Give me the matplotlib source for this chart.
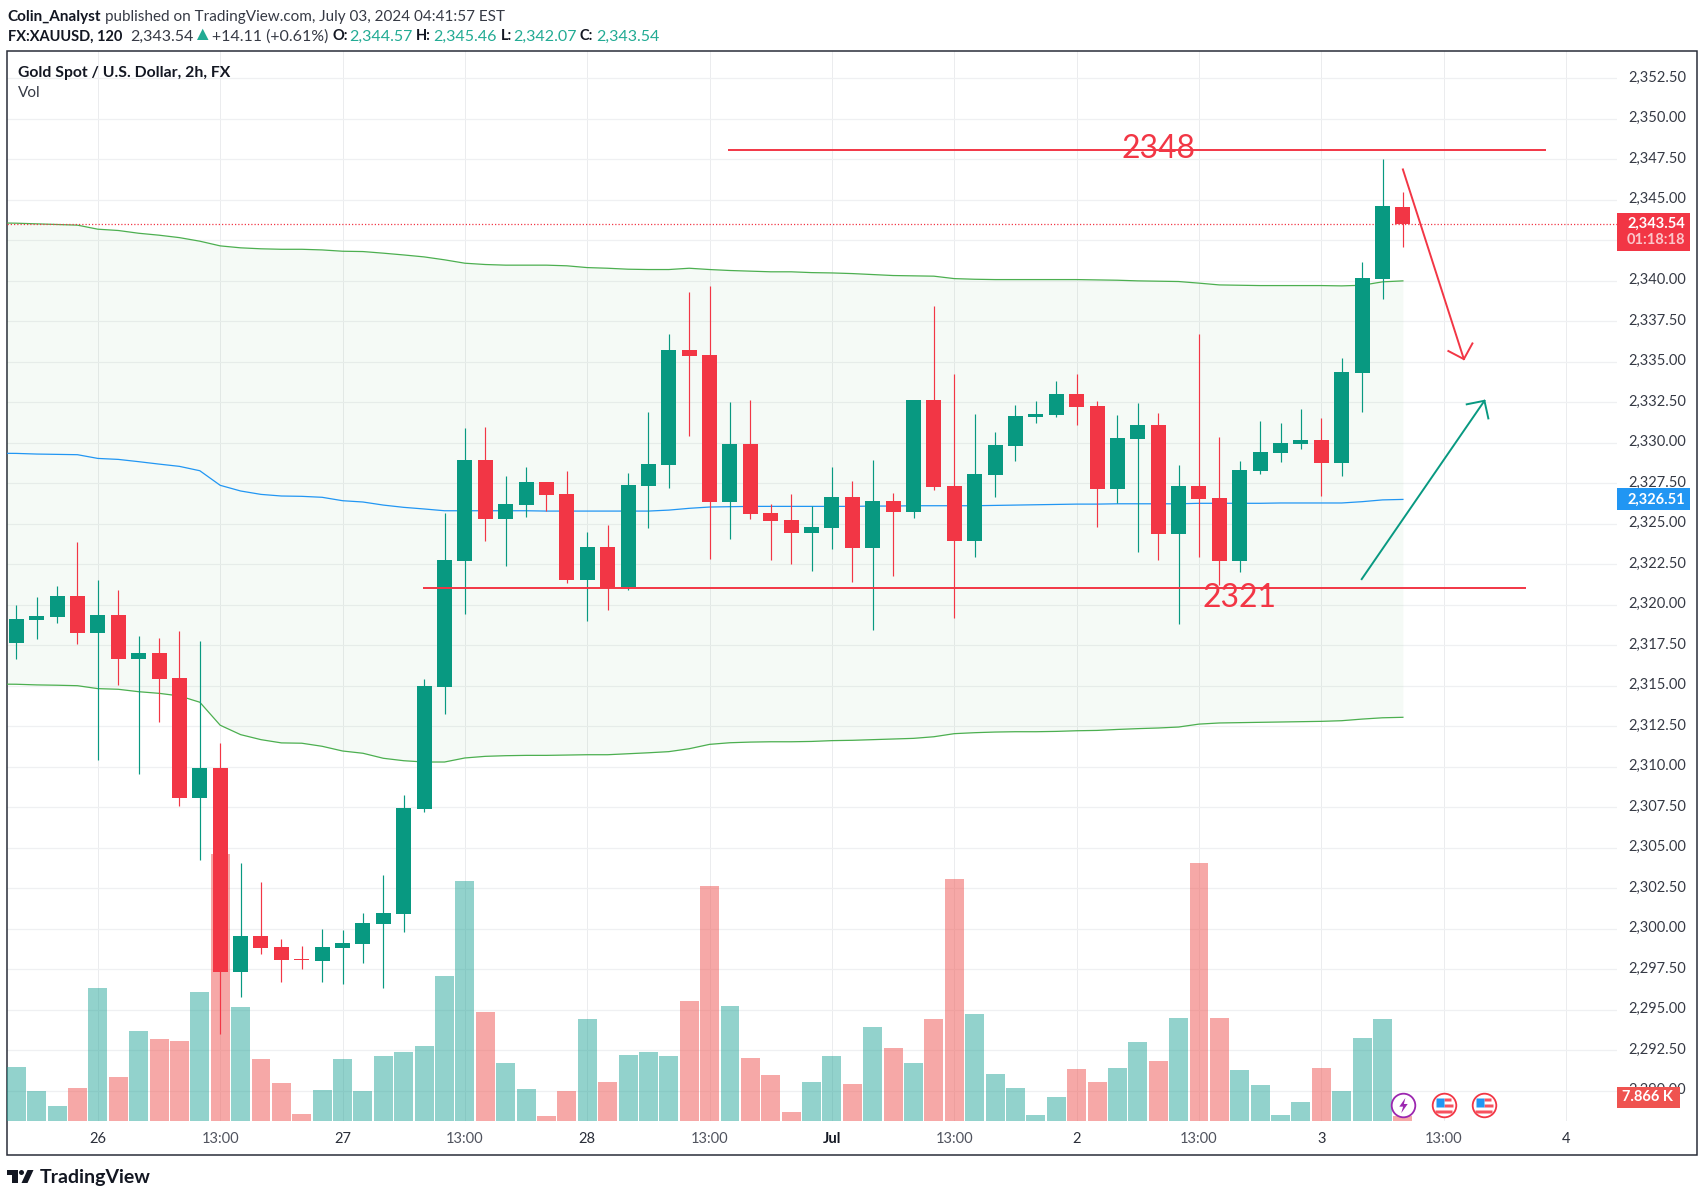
import numpy as np
import matplotlib
matplotlib.use('Agg')
import matplotlib.pyplot as plt
from matplotlib.patches import Rectangle, Polygon, Circle
from matplotlib.path import Path
from matplotlib.transforms import Affine2D

plt.rcParams['font.family'] = ['Lato', 'DejaVu Sans']

# candles, 2h bars, index 0..68
opens = [2317.67, 2319.09, 2319.27, 2320.57, 2318.29, 2319.40, 2316.68, 2317.00, 2315.51, 2308.10,
         2309.95, 2297.36, 2299.58, 2298.90, 2298.16, 2298.04, 2298.84, 2299.09, 2300.32, 2300.94,
         2307.42, 2314.95, 2322.69, 2328.92, 2325.28, 2326.14, 2327.56, 2326.82, 2321.51, 2323.55,
         2321.08, 2327.32, 2328.61, 2335.71, 2335.40, 2326.33, 2329.91, 2325.65, 2325.22, 2324.42,
         2324.72, 2326.64, 2323.49, 2326.39, 2325.71, 2332.64, 2327.33, 2323.94, 2328.01, 2329.80,
         2331.59, 2331.72, 2333.01, 2332.27, 2327.15, 2330.24, 2331.10, 2324.37, 2327.33, 2326.59,
         2322.70, 2328.26, 2329.37, 2329.93, 2330.17, 2328.75, 2334.31, 2340.12, 2344.57]
highs = [2320.00, 2320.51, 2321.19, 2323.90, 2321.56, 2320.94, 2318.10, 2317.98, 2318.41, 2317.79,
         2311.50, 2304.09, 2302.92, 2299.40, 2298.97, 2300.01, 2299.95, 2301.00, 2303.35, 2308.29,
         2315.45, 2325.65, 2330.90, 2330.96, 2327.93, 2328.49, 2327.56, 2328.24, 2324.48, 2324.91,
         2328.12, 2331.88, 2336.70, 2339.29, 2339.66, 2332.50, 2332.63, 2326.21, 2326.82, 2326.08,
         2328.49, 2327.63, 2328.92, 2326.88, 2332.64, 2338.45, 2334.25, 2331.78, 2330.67, 2332.33,
         2332.58, 2333.82, 2334.25, 2332.58, 2331.72, 2332.46, 2331.84, 2328.63, 2336.72, 2330.36,
         2328.88, 2331.35, 2331.22, 2332.09, 2331.53, 2335.24, 2341.16, 2347.52, 2345.46]
lows = [2316.68, 2317.92, 2318.90, 2317.61, 2310.45, 2315.08, 2309.58, 2312.79, 2307.61, 2304.27,
        2293.50, 2295.82, 2298.47, 2296.74, 2297.55, 2296.74, 2296.62, 2297.92, 2296.37, 2299.83,
        2307.24, 2313.29, 2319.42, 2323.92, 2322.38, 2325.40, 2325.77, 2321.33, 2318.98, 2319.66,
        2320.90, 2324.72, 2327.19, 2330.40, 2322.81, 2324.05, 2325.28, 2322.75, 2322.50, 2322.07,
        2323.43, 2321.39, 2318.43, 2321.76, 2325.36, 2327.09, 2319.19, 2322.95, 2326.65, 2328.88,
        2331.22, 2331.59, 2331.10, 2324.80, 2326.28, 2323.26, 2322.77, 2318.82, 2322.95, 2321.22,
        2322.03, 2328.07, 2328.82, 2329.62, 2326.72, 2327.95, 2331.91, 2338.88, 2342.07]
closes = [2319.15, 2319.34, 2320.57, 2318.29, 2319.40, 2316.68, 2317.00, 2315.45, 2308.10, 2309.95,
          2297.36, 2299.58, 2298.84, 2298.10, 2298.10, 2298.90, 2299.15, 2300.39, 2301.00, 2307.48,
          2315.01, 2322.75, 2328.92, 2325.28, 2326.21, 2327.56, 2326.76, 2321.51, 2323.55, 2321.02,
          2327.38, 2328.67, 2335.71, 2335.34, 2326.33, 2329.91, 2325.59, 2325.16, 2324.42, 2324.79,
          2326.64, 2323.49, 2326.39, 2325.71, 2332.64, 2327.27, 2323.94, 2328.07, 2329.86, 2331.65,
          2331.78, 2333.01, 2332.21, 2327.15, 2330.30, 2331.10, 2324.37, 2327.33, 2326.53, 2322.70,
          2328.32, 2329.43, 2329.99, 2330.17, 2328.75, 2334.37, 2340.18, 2344.62, 2343.54]
# volume in K
volumes = [84.9, 47.2, 23.6, 51.9, 209.1, 69.2, 141.5, 128.9, 125.8, 202.8,
           419.7, 179.2, 97.5, 59.7, 11.0, 48.7, 97.5, 47.2, 102.2, 108.5,
           117.9, 227.9, 377.3, 171.3, 91.2, 50.3, 7.9, 47.2, 160.3, 61.3,
           103.8, 108.5, 102.2, 188.6, 369.4, 180.8, 99.0, 72.3, 14.1, 61.3,
           102.2, 58.2, 147.8, 114.8, 91.2, 160.3, 380.4, 168.2, 73.9, 51.9,
           9.4, 37.7, 81.7, 61.3, 83.3, 124.2, 94.3, 161.9, 405.6, 161.9,
           80.2, 56.6, 9.4, 29.9, 83.3, 47.2, 130.5, 160.3, 7.866]

# bollinger bands, index -1..68 (first value is the bar just off the left edge)
bb_upper = [2343.58, 2343.56, 2343.52, 2343.48, 2343.44, 2343.19, 2343.11, 2342.94, 2342.82, 2342.67,
            2342.45, 2342.16, 2342.04, 2341.98, 2341.95, 2341.95, 2341.91, 2341.83, 2341.81, 2341.71,
            2341.60, 2341.48, 2341.30, 2341.09, 2341.01, 2340.97, 2340.97, 2340.97, 2340.93, 2340.82,
            2340.78, 2340.72, 2340.70, 2340.70, 2340.78, 2340.70, 2340.64, 2340.60, 2340.56, 2340.56,
            2340.51, 2340.49, 2340.45, 2340.39, 2340.33, 2340.31, 2340.29, 2340.14, 2340.10, 2340.08,
            2340.08, 2340.08, 2340.08, 2340.08, 2340.06, 2340.04, 2340.00, 2339.98, 2339.96, 2339.86,
            2339.75, 2339.73, 2339.71, 2339.71, 2339.71, 2339.71, 2339.69, 2339.73, 2339.94, 2340.00]
bb_mid = [2329.36, 2329.35, 2329.31, 2329.29, 2329.27, 2329.04, 2328.98, 2328.84, 2328.69, 2328.55,
          2328.28, 2327.38, 2327.03, 2326.82, 2326.72, 2326.70, 2326.64, 2326.43, 2326.35, 2326.16,
          2326.02, 2325.92, 2325.81, 2325.81, 2325.81, 2325.81, 2325.81, 2325.79, 2325.79, 2325.79,
          2325.79, 2325.79, 2325.79, 2325.85, 2325.96, 2326.04, 2326.06, 2326.08, 2326.08, 2326.08,
          2326.08, 2326.08, 2326.08, 2326.10, 2326.10, 2326.12, 2326.12, 2326.12, 2326.12, 2326.14,
          2326.16, 2326.18, 2326.20, 2326.22, 2326.22, 2326.24, 2326.24, 2326.24, 2326.24, 2326.27,
          2326.27, 2326.27, 2326.27, 2326.29, 2326.29, 2326.29, 2326.29, 2326.37, 2326.48, 2326.51]
bb_lower = [2315.11, 2315.10, 2315.06, 2315.04, 2315.01, 2314.83, 2314.79, 2314.64, 2314.54, 2314.38,
            2313.99, 2312.57, 2311.99, 2311.68, 2311.48, 2311.46, 2311.27, 2310.98, 2310.84, 2310.53,
            2310.38, 2310.30, 2310.30, 2310.55, 2310.65, 2310.69, 2310.71, 2310.71, 2310.73, 2310.75,
            2310.75, 2310.81, 2310.87, 2310.94, 2311.12, 2311.39, 2311.49, 2311.53, 2311.55, 2311.55,
            2311.57, 2311.62, 2311.64, 2311.68, 2311.72, 2311.76, 2311.86, 2312.05, 2312.11, 2312.15,
            2312.17, 2312.17, 2312.19, 2312.23, 2312.25, 2312.31, 2312.36, 2312.40, 2312.46, 2312.64,
            2312.71, 2312.73, 2312.75, 2312.77, 2312.79, 2312.81, 2312.85, 2312.95, 2313.03, 2313.06]

# axis labels
time_pos = [4, 10, 16, 22, 28, 34, 40, 46, 52, 58, 64, 70, 76]
time_labels = ['26', '13:00', '27', '13:00', '28', '13:00', 'Jul', '13:00', '2', '13:00', '3', '13:00', '4']
price_ticks = np.arange(2290, 2353, 2.5)

# drawings on the chart (bar index, price)
res_line_x, res_line_y = [34.9, 75.0], [2348.1, 2348.1]
sup_line_x, sup_line_y = [19.93, 74.05], [2321.06, 2321.06]
down_arrow_x, down_arrow_y = [68.0, 70.99], [2346.88, 2335.17]
down_head_x, down_head_y = [70.23, 70.99, 71.41], [2335.67, 2335.17, 2336.14]
up_arrow_x, up_arrow_y = [65.98, 72.0], [2321.59, 2332.6]
up_head_x, up_head_y = [71.13, 72.0, 72.19], [2332.38, 2332.6, 2331.51]

GREEN = '#089981'
RED = '#F23645'
TEAL_TXT = '#22AB94'
DARK = '#131722'

W, H = 1704, 1199
fig = plt.figure(figsize=(W / 100, H / 100), dpi=100, facecolor='white')
px = Affine2D().scale(1 / W, -1 / H).translate(0, 1) + fig.transFigure  # pixel coords from top-left

pos = [7 / W, 1 - 1121 / H, 1610 / W, 1070 / H]
x_lim = (-0.456, 78.5)
y_lim = (2288.14, 2354.19)

# three layers: grid, then volume, then price
ax_grid = fig.add_axes(pos, zorder=0)
ax_vol = fig.add_axes(pos, zorder=1)
ax = fig.add_axes(pos, zorder=2)
ax_vol.axis('off')
ax_vol.set_xlim(*x_lim)
ax_vol.set_ylim(0, 1683)
ax_grid.set_xlim(*x_lim)
ax_grid.set_ylim(*y_lim)
ax.patch.set_visible(False)
ax.set_xlim(*x_lim)
ax.set_ylim(*y_lim)
for a in (ax, ax_grid):
    for s in a.spines.values():
        s.set_visible(False)

idx = np.arange(len(opens))
o, h, l, c = map(np.array, (opens, highs, lows, closes))
up = c >= o
candle_colors = np.where(up, GREEN, RED)
vol_colors = np.where(up, '#26A69A', '#EF5350')

ax_vol.bar(idx, volumes, width=0.93, color=vol_colors, alpha=0.5, linewidth=0)

# grid and ticks
ax_grid.set_yticks(price_ticks)
ax_grid.set_xticks(time_pos)
ax_grid.tick_params(length=0, labelleft=False, labelbottom=False)
ax_grid.grid(axis='y', color='#EFF0F2', lw=0.9)
ax_grid.grid(axis='x', color='#EBECEE', lw=0.72)

ax.yaxis.tick_right()
ax.set_yticks(price_ticks)
ax.set_yticklabels([f'{v:,.2f}' for v in price_ticks])
ax.set_xticks(time_pos)
ax.set_xticklabels(time_labels)
ax.tick_params(axis='y', length=0, pad=8, labelsize=10.5, labelcolor='#363A45')
ax.tick_params(axis='x', length=0, pad=8, labelsize=10.5, labelcolor='#50535E')
for t in ax.get_xticklabels():
    if t.get_text() == 'Jul':
        t.set_fontweight('bold')
        t.set_color(DARK)
    elif t.get_text() in ('26', '27', '28', '2', '3', '4'):
        t.set_color('#2A2E39')
# labels sit a touch above the gridline
for t in ax.get_yticklabels():
    t.set_transform(t.get_transform() + Affine2D().translate(0, 2))

# bollinger bands
bb_x = np.arange(-1, len(opens))
ax.fill_between(bb_x, bb_lower, bb_upper, color='#4CAF50', alpha=0.05, linewidth=0, zorder=1.5)
ax.plot(bb_x, bb_upper, color='#4CAF50', lw=0.9, zorder=1.8)
ax.plot(bb_x, bb_lower, color='#4CAF50', lw=0.9, zorder=1.8)
ax.plot(bb_x, bb_mid, color='#2196F3', lw=0.9, zorder=1.8)

# last price line
ax.axhline(closes[-1], color=RED, lw=0.9, ls=(0, (1, 1.6)), zorder=2)

# candles
ax.vlines(idx, l, h, colors=candle_colors, lw=0.85, zorder=3)
ax.bar(idx, np.abs(c - o), bottom=np.minimum(o, c), width=0.736, color=candle_colors, linewidth=0, zorder=4)

# drawings
ax.plot(res_line_x, res_line_y, color=RED, lw=1.4, zorder=5, solid_capstyle='butt')
ax.plot(sup_line_x, sup_line_y, color=RED, lw=1.4, zorder=5, solid_capstyle='butt')
ax.text(56.0, 2348.15, '2348', color=RED, fontsize=23, ha='center', va='center', zorder=6)
ax.text(60.0, 2320.45, '2321', color=RED, fontsize=23, ha='center', va='center', zorder=6)
ax.plot(down_arrow_x, down_arrow_y, color=RED, lw=1.4, zorder=5)
ax.plot(down_head_x, down_head_y, color=RED, lw=1.4, zorder=5)
ax.plot(up_arrow_x, up_arrow_y, color=GREEN, lw=1.4, zorder=5)
ax.plot(up_head_x, up_head_y, color=GREEN, lw=1.4, zorder=5)

# price tags on the right scale
yt = ax.get_yaxis_transform()


def tag(top, height, right, color):
    ax.add_patch(Rectangle((1.0, top - height), right - 1.0, height, transform=yt, color=color,
                           linewidth=0, clip_on=False, zorder=7))


tag(2344.19, 2.33, 1.0453, RED)
ax.text(1.0425, 2343.54, '2,343.54', transform=yt, color='white', fontsize=10.5, fontweight='bold',
        ha='right', va='center', zorder=8)
ax.text(1.0425, 2342.5, '01:18:18', transform=yt, color='#FBC7CB', fontsize=10.5, fontweight='bold',
        ha='right', va='center', zorder=8)
tag(2327.2, 1.36, 1.0453, '#2196F3')
ax.text(1.0425, 2326.51, '2,326.51', transform=yt, color='white', fontsize=10.5, fontweight='bold',
        ha='right', va='center', zorder=8)
tag(2290.25, 1.29, 1.0391, '#EF5350')
ax.text(1.0345, 2289.6, '7.866 K', transform=yt, color='white', fontsize=10.5, fontweight='bold',
        ha='right', va='center', zorder=8)

# event icons
icon_price = 2289.12
bolt = Path([(0.25, 1), (-0.55, -0.15), (-0.05, -0.15), (-0.3, -1), (0.55, 0.2), (0.05, 0.2), (0.25, 1)])
ax.plot(68, icon_price, marker='o', ms=17, mfc='white', mec='#9C27B0', mew=1.3, zorder=9)
ax.plot(68, icon_price, marker=bolt, ms=11, mfc='#9C27B0', mec='none', zorder=10)
stripes = Path.make_compound_path(
    Path([(0.0, 0.65), (0.7, 0.65), (0.7, 0.4), (0.0, 0.4), (0.0, 0.65)]),
    Path([(0.0, 0.1), (0.9, 0.1), (0.9, -0.15), (0.0, -0.15), (0.0, 0.1)]),
    Path([(-0.9, -0.45), (0.75, -0.45), (0.75, -0.8), (-0.9, -0.8), (-0.9, -0.45)]))
canton = Path([(-0.85, 0.7), (-0.05, 0.7), (-0.05, -0.2), (-0.85, -0.2), (-0.85, 0.7)])
for ix in (70, 72):
    ax.plot(ix, icon_price, marker='o', ms=17, mfc='white', mec=RED, mew=1.3, zorder=9)
    ax.plot(ix, icon_price, marker=stripes, ms=13, mfc='#F7525F', mec='none', zorder=10)
    ax.plot(ix, icon_price, marker=canton, ms=12, mfc='#2196F3', mec='none', zorder=11)

# outer frame
fig.add_artist(Rectangle((7, 51), 1689.7, 1104, transform=px, fill=False, edgecolor='#2A2E39', linewidth=1.1))


def head(x, y, s, color=DARK, bold=False, size=11.5):
    fig.text(x, y, s, transform=px, color=color, fontsize=size, fontweight='bold' if bold else 'normal',
             va='center', ha='left')


# header
head(7, 16.5, 'Colin_Analyst', bold=True, size=11)
head(105, 16.5, 'published on TradingView.com, July 03, 2024 04:41:57 EST', color='#363A45', size=11)
head(8, 36.5, 'FX:XAUUSD, 120', bold=True, size=10.5)
head(130, 36.5, '2,343.54', color='#363A45')
fig.add_artist(Polygon([(197, 40), (208.5, 40), (202.7, 28.7)], transform=px, color=TEAL_TXT, linewidth=0))
head(212.5, 36.5, '+14.11 (+0.61%)', color='#363A45')
for lab, lx, val, vx in [('O:', 332.6, '2,344.57', 349.5), ('H:', 416, '2,345.46', 433.5),
                         ('L:', 501, '2,342.07', 513.4), ('C:', 580, '2,343.54', 596)]:
    head(lx, 36.5, lab, bold=True, size=10.5)
    head(vx, 36.5, val, color=TEAL_TXT)

# pane legend
head(18.3, 73, 'Gold Spot / U.S. Dollar, 2h, FX', bold=True, size=11.3)
head(18.3, 93, 'Vol', color='#363A45', size=11)

# TradingView logo
fig.add_artist(Polygon([(7, 1170), (17.5, 1170), (17.5, 1183), (12, 1183), (12, 1175), (7, 1175)],
                       transform=px, color=DARK, linewidth=0))
fig.add_artist(Circle((21.5, 1172.5), 2.5, transform=px, color=DARK, linewidth=0))
fig.add_artist(Polygon([(27.5, 1170), (33.5, 1170), (27.5, 1183), (21.5, 1183)], transform=px, color=DARK, linewidth=0))
head(40, 1177, 'TradingView', bold=True, size=14)

fig.savefig('out.png', dpi=100)
